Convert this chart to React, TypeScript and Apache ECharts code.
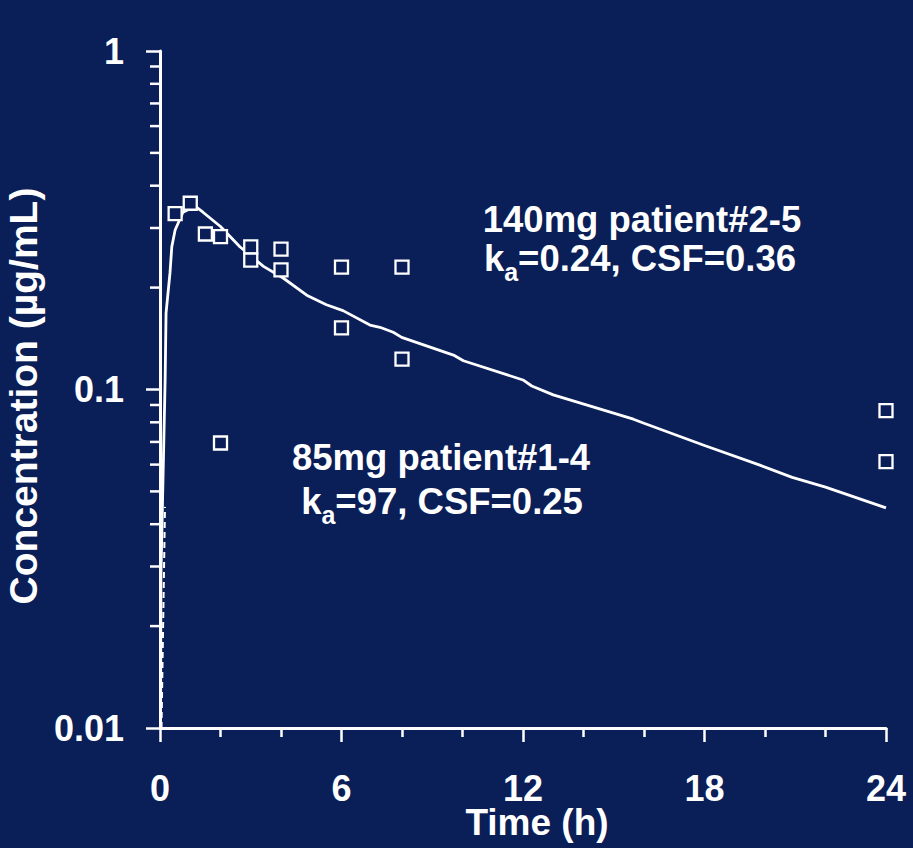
import React, { useEffect, useRef } from "react";
import * as echarts from "echarts";

// Model curve, 140 mg (ka = 0.24, CSF = 0.36)
const modelTime = [
  0.02, 0.03, 0.17, 0.2, 0.33, 0.39, 0.5, 0.76, 1.16, 1.42, 2, 2.64, 3.42, 4.07, 4.85, 5.5, 6.05, 6.94,
  7.27, 7.71, 7.99, 9.7, 10.03, 12.0, 12.29, 13.0, 15.65, 16.0, 18.0, 19.83, 20.9, 22.0, 24.0,
];
const modelConc = [
  0.01, 0.028, 0.107, 0.168, 0.221, 0.264, 0.296, 0.334, 0.348, 0.334, 0.303, 0.264, 0.231, 0.2135, 0.19,
  0.178, 0.171, 0.155, 0.1527, 0.1476, 0.1426, 0.1264, 0.1216, 0.1067, 0.1024, 0.0964, 0.0817, 0.0795,
  0.0683, 0.0598, 0.055, 0.0515, 0.0447,
];

// Model curve, 85 mg (rises almost instantly at t = 0)
const model85Time = [0.05, 0.165];
const model85Conc = [0.01, 0.045];

// Observed concentrations, 140 mg patient #2-5
const obs140Time = [0.5, 1, 1.5, 2, 3, 3, 4, 4, 6, 6, 8, 8, 24, 24];
const obs140Conc = [
  0.331, 0.355, 0.288, 0.283, 0.264, 0.241, 0.26, 0.2255, 0.23, 0.152, 0.23, 0.123, 0.0866, 0.0612,
];

// Observed concentration, 85 mg patient #1-4
const obs85Time = [2];
const obs85Conc = [0.0695];

// Axis ticks
const xTicks = [0, 6, 12, 18, 24];
const yMinorTicks = [0.02, 0.03, 0.04, 0.05, 0.06, 0.07, 0.08, 0.09, 0.2, 0.3, 0.4, 0.5, 0.6, 0.7, 0.8, 0.9];

const BG = "#0a1e57";
const FONT = "'Liberation Sans', Arial, Helvetica, sans-serif";

export default function App() {
  const ref = useRef<HTMLDivElement>(null);

  useEffect(() => {
    document.body.style.margin = "0";
    document.body.style.background = BG;
    const chart = echarts.init(ref.current!, undefined, { renderer: "svg" });

    const white = "#ffffff";
    const labelStyle = { color: white, fontSize: 36, fontWeight: "bold" as const, fontFamily: FONT };

    const sub = {
      fontSize: 25,
      fontWeight: "bold",
      fontFamily: FONT,
      fill: white,
      padding: [28, 0, 0, 0],
    };
    const main = { fontSize: 36.5, fontWeight: "bold", fontFamily: FONT, fill: white };

    const squareStyle = { color: BG, borderColor: white, borderWidth: 2.3, opacity: 1 };

    chart.setOption({
      animation: false,
      backgroundColor: BG,
      grid: {
        left: 160,
        right: 27,
        top: 51,
        bottom: 120,
        containLabel: false,
        outerBoundsMode: "none",
      },
      xAxis: {
        type: "value",
        min: xTicks[0],
        max: xTicks[xTicks.length - 1],
        interval: 6,
        name: "Time (h)",
        nameLocation: "middle",
        nameGap: 76,
        nameMoveOverlap: false,
        nameTextStyle: { ...labelStyle, fontSize: 37, padding: [0, 0, 0, 28] },
        axisLine: { show: true, lineStyle: { color: white, width: 3 } },
        axisTick: { show: true, length: 14, lineStyle: { color: white, width: 2.5 } },
        minorTick: { show: true, splitNumber: 3, length: 9, lineStyle: { color: white, width: 2.5 } },
        axisLabel: { ...labelStyle, margin: 42 },
        splitLine: { show: false },
      },
      yAxis: {
        type: "log",
        logBase: 10,
        min: 0.01,
        max: 1,
        name: "Concentration (µg/mL)",
        nameLocation: "middle",
        nameGap: 101,
        nameTextStyle: { ...labelStyle, fontSize: 39, padding: [0, 13, 0, 0] },
        axisLine: { show: true, lineStyle: { color: white, width: 3 } },
        axisTick: { show: true, length: 14, lineStyle: { color: white, width: 2.5 } },
        axisLabel: { ...labelStyle, margin: 36 },
        splitLine: { show: false },
      },
      series: [
        {
          name: "log minor ticks",
          type: "custom",
          silent: true,
          clip: false,
          data: yMinorTicks.map((v) => [0, v]),
          renderItem: (_params: any, api: any) => {
            const p = api.coord([0, api.value(1)]);
            return {
              type: "line",
              shape: { x1: p[0] - 10, y1: p[1], x2: p[0], y2: p[1] },
              style: { stroke: white, lineWidth: 2.5 },
            };
          },
          z: 1,
        },
        {
          name: "85mg model",
          type: "line",
          data: model85Time.map((t, i) => [t, model85Conc[i]]),
          showSymbol: false,
          lineStyle: { color: white, width: 2, type: [6, 4] },
          z: 2,
        },
        {
          name: "140mg model",
          type: "line",
          data: modelTime.map((t, i) => [t, modelConc[i]]),
          showSymbol: false,
          lineStyle: { color: white, width: 2.8 },
          z: 3,
        },
        {
          name: "140mg patient#2-5",
          type: "scatter",
          data: obs140Time.map((t, i) => [t, obs140Conc[i]]),
          symbol: "rect",
          symbolSize: 13,
          itemStyle: squareStyle,
          z: 4,
        },
        {
          name: "85mg patient#1-4",
          type: "scatter",
          data: obs85Time.map((t, i) => [t, obs85Conc[i]]),
          symbol: "rect",
          symbolSize: 13,
          itemStyle: squareStyle,
          z: 4,
        },
      ],
      graphic: [
        {
          type: "text",
          x: 642,
          y: 219,
          style: { text: "140mg patient#2-5", ...main, align: "center", verticalAlign: "middle" },
        },
        {
          type: "text",
          x: 640,
          y: 258,
          style: {
            text: "{m|k}{s|a}{m|=0.24, CSF=0.36}",
            rich: { m: main, s: sub },
            align: "center",
            verticalAlign: "middle",
          },
        },
        {
          type: "text",
          x: 441,
          y: 457,
          style: { text: "85mg patient#1-4", ...main, align: "center", verticalAlign: "middle" },
        },
        {
          type: "text",
          x: 442,
          y: 501,
          style: {
            text: "{m|k}{s|a}{m|=97, CSF=0.25}",
            rich: { m: main, s: sub },
            align: "center",
            verticalAlign: "middle",
          },
        },
      ],
    });

    return () => chart.dispose();
  }, []);

  return (
    <div
      ref={ref}
      style={{ position: "fixed", left: 0, top: 0, width: 913, height: 848, background: BG }}
    />
  );
}
